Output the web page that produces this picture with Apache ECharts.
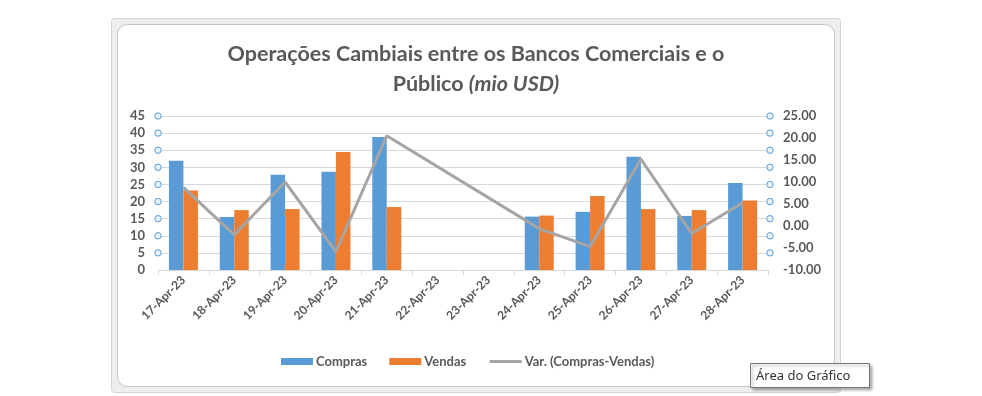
<!DOCTYPE html>
<html><head><meta charset="utf-8">
<script src="https://cdn.jsdelivr.net/npm/echarts@6/dist/echarts.min.js"></script>
<style>html,body{margin:0;padding:0;background:#fff}#c{width:982px;height:396px}</style>
</head><body><div id="c"></div>
<script>
const categories = ['17-Apr-23','18-Apr-23','19-Apr-23','20-Apr-23','21-Apr-23','22-Apr-23','23-Apr-23','24-Apr-23','25-Apr-23','26-Apr-23','27-Apr-23','28-Apr-23'];
const compras = [31.9, 15.5, 27.8, 28.7, 38.9, null, null, 15.6, 17.0, 33.1, 15.8, 25.4];
const vendas  = [23.2, 17.5, 17.8, 34.5, 18.4, null, null, 15.9, 21.6, 17.8, 17.5, 20.3];
const variacao = [8.8, -2.0, 10.0, -5.8, 20.5, null, null, -0.6, -4.7, 15.2, -1.7, 5.3];
const leftAxis = {min: 0, max: 45, interval: 5};
const rightAxis = {min: -10, max: 25, interval: 5};
const seriesNames = ['Compras', 'Vendas', 'Var. (Compras-Vendas)'];
const titleLine1 = 'Operações Cambiais entre os Bancos Comerciais e o';
const titleLine2a = 'Público ';
const titleLine2b = '(mio USD)';

const FONT = 'Lato, "Open Sans", sans-serif';
const chart = echarts.init(document.getElementById('c'), null, {renderer: 'canvas'});
const gridL = 158, gridR = 982 - 768, gridT = 116, gridB = 396 - 270;

chart.setOption({
  animation: false,
  backgroundColor: '#fff',
  graphic: [
    {id: 'outer', type: 'rect', z: -20, silent: true,
     shape: {x: 111.5, y: 18.5, width: 729, height: 374, r: 3},
     style: {fill: '#eeeeee', stroke: '#d4d4d4', lineWidth: 1}},
    {id: 'inner', type: 'rect', z: -19, silent: true,
     shape: {x: 117.5, y: 24.5, width: 717, height: 362, r: 10},
     style: {fill: '#ffffff', stroke: '#c6c6c6', lineWidth: 1}},
    {id: 'title', type: 'text', z: 10, x: 476, y: 39,
     style: {
       text: '{a|' + titleLine1 + '}\n{a|' + titleLine2a + '}{b|' + titleLine2b + '}',
       align: 'center', verticalAlign: 'top',
       rich: {
         a: {fontFamily: FONT, fontWeight: 'bold', fontSize: 21.5, fill: '#595959', lineHeight: 30},
         b: {fontFamily: FONT, fontWeight: 'bold', fontStyle: 'italic', fontSize: 21.5, fill: '#595959', lineHeight: 30}
       }
     }},
    {id: 'tipbox', type: 'rect', z: 20, silent: true,
     shape: {x: 750.5, y: 363.5, width: 119, height: 24},
     style: {fill: '#ffffff', stroke: '#767676', lineWidth: 1, shadowBlur: 3, shadowColor: 'rgba(0,0,0,0.35)', shadowOffsetX: 2, shadowOffsetY: 2}},
    {id: 'tiptext', type: 'text', z: 21, x: 756, y: 376,
     style: {text: 'Área do Gráfico', fontFamily: '"Noto Sans", sans-serif', fontSize: 13, fill: '#333', verticalAlign: 'middle'}}
  ],
  legend: {
    data: [
      {name: seriesNames[0], icon: 'rect'},
      {name: seriesNames[1], icon: 'rect'},
      {name: seriesNames[2], itemStyle: {opacity: 0}, lineStyle: {width: 3, color: '#a5a5a5'}}
    ],
    left: 281, top: 355, padding: 0,
    itemWidth: 32, itemHeight: 7, itemGap: 22,
    textStyle: {fontFamily: FONT, fontWeight: 'bold', fontSize: 13, color: '#595959', padding: [0, 0, 0, -2]}
  },
  grid: {left: gridL, right: gridR, top: gridT, bottom: gridB, containLabel: false},
  xAxis: {
    type: 'category', data: categories, boundaryGap: true,
    axisLine: {lineStyle: {color: '#d9d9d9'}},
    axisTick: {show: true, alignWithLabel: false, length: 5, lineStyle: {color: '#d9d9d9'}},
    axisLabel: {rotate: 45, interval: 0, margin: 8, fontFamily: FONT, fontWeight: 'bold', fontSize: 12, color: '#595959'}
  },
  yAxis: [
    {type: 'value', min: leftAxis.min, max: leftAxis.max, interval: leftAxis.interval, alignTicks: false,
     axisLine: {show: false}, axisTick: {show: false},
     splitLine: {lineStyle: {color: '#d9d9d9'}},
     axisLabel: {margin: 13, fontFamily: FONT, fontWeight: 'bold', fontSize: 13, color: '#595959'}},
    {type: 'value', min: rightAxis.min, max: rightAxis.max, interval: rightAxis.interval, alignTicks: false,
     axisLine: {show: false}, axisTick: {show: false}, splitLine: {show: false},
     axisLabel: {margin: 15, fontFamily: FONT, fontWeight: 'bold', fontSize: 13, color: '#595959',
       formatter: v => v.toFixed(2)}}
  ],
  series: [
    {name: seriesNames[0], type: 'bar', data: compras, yAxisIndex: 0, barGap: '0%', barCategoryGap: '43%',
     itemStyle: {color: '#5b9bd5'}},
    {name: seriesNames[1], type: 'bar', data: vendas, yAxisIndex: 0, barGap: '0%', barCategoryGap: '43%',
     itemStyle: {color: '#ed7d31'}},
    {name: seriesNames[2], type: 'line', data: variacao, yAxisIndex: 1, connectNulls: true,
     symbol: 'none', lineStyle: {color: '#a5a5a5', width: 3}, itemStyle: {color: '#a5a5a5'}, z: 5}
  ]
});

// Excel-style selection handles along both vertical axes, placed at left-axis tick values
const handles = [];
const step = chart.convertToPixel({xAxisIndex: 0}, categories[1]) - chart.convertToPixel({xAxisIndex: 0}, categories[0]);
const xl = chart.convertToPixel({xAxisIndex: 0}, categories[0]) - step / 2;
const xr = chart.convertToPixel({xAxisIndex: 0}, categories[categories.length - 1]) + step / 2 + 2;
for (let v = leftAxis.min + leftAxis.interval; v <= leftAxis.max; v += leftAxis.interval) {
  const y = chart.convertToPixel({yAxisIndex: 0}, v);
  [xl, xr].forEach((x, i) => handles.push({
    id: 'h' + v + '_' + i, type: 'circle', z: 15, silent: true,
    shape: {cx: x, cy: y, r: 3.2},
    style: {fill: '#e8f2fb', stroke: '#5b9bd5', lineWidth: 1}
  }));
}
chart.setOption({graphic: handles});
</script>
</body></html>
